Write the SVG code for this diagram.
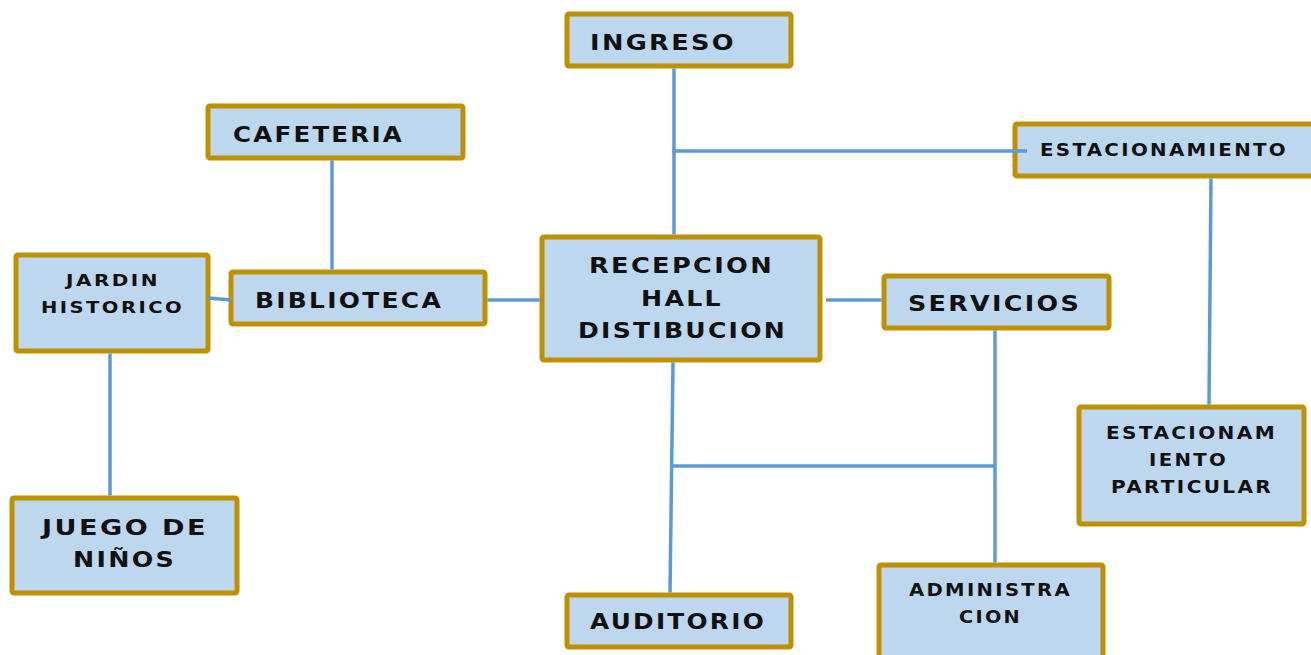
<svg xmlns="http://www.w3.org/2000/svg" width="1311" height="655" viewBox="0 0 1311 655">
<style>
.box{fill:#BDD7EE;stroke:#BF9000;stroke-width:5}
.t{font-family:"DejaVu Sans","Liberation Sans",sans-serif;font-weight:bold;fill:#111;letter-spacing:2px}
.l{font-size:22px}
.s{font-size:17px}
.x{font-size:16px}
.c{stroke:#5B9BD5;stroke-width:3.5;fill:none}
</style>
<rect width="1311" height="655" fill="#fff"/>
<g id="ingreso"><rect class="box" x="567" y="14" width="224" height="52" rx="2"/><text class="t l" x="590" y="50" textLength="146" lengthAdjust="spacingAndGlyphs">INGRESO</text></g>
<g id="cafeteria"><rect class="box" x="208" y="106" width="255" height="52" rx="2"/><text class="t l" x="233" y="142" textLength="171" lengthAdjust="spacingAndGlyphs">CAFETERIA</text></g>
<g id="estacionamiento"><rect class="box" x="1015" y="124" width="300" height="52" rx="2"/><text class="t s" x="1040" y="156" textLength="248" lengthAdjust="spacingAndGlyphs">ESTACIONAMIENTO</text></g>
<g id="jardin"><rect class="box" x="16" y="255" width="192" height="96" rx="2"/><text class="t x" x="66" y="286" textLength="94" lengthAdjust="spacingAndGlyphs">JARDIN</text><text class="t x" x="41" y="313" textLength="143" lengthAdjust="spacingAndGlyphs">HISTORICO</text></g>
<g id="biblioteca"><rect class="box" x="231" y="272" width="254" height="52" rx="2"/><text class="t l" x="255" y="308" textLength="188" lengthAdjust="spacingAndGlyphs">BIBLIOTECA</text></g>
<g id="recepcion"><rect class="box" x="542" y="237" width="278" height="123" rx="2"/><text class="t l" x="589" y="273" textLength="185" lengthAdjust="spacingAndGlyphs">RECEPCION</text><text class="t l" x="641" y="306" textLength="82" lengthAdjust="spacingAndGlyphs">HALL</text><text class="t l" x="578" y="338" textLength="209" lengthAdjust="spacingAndGlyphs">DISTIBUCION</text></g>
<g id="servicios"><rect class="box" x="884" y="276" width="225" height="52" rx="2"/><text class="t l" x="908" y="311" textLength="173" lengthAdjust="spacingAndGlyphs">SERVICIOS</text></g>
<g id="estacionamiento-particular"><rect class="box" x="1079" y="407" width="225" height="117" rx="2"/><text class="t s" x="1106" y="439" textLength="171" lengthAdjust="spacingAndGlyphs">ESTACIONAM</text><text class="t s" x="1149" y="466" textLength="79" lengthAdjust="spacingAndGlyphs">IENTO</text><text class="t s" x="1111" y="493" textLength="162" lengthAdjust="spacingAndGlyphs">PARTICULAR</text></g>
<g id="juego"><rect class="box" x="12" y="498" width="225" height="95" rx="2"/><text class="t l" x="42" y="535" textLength="166" lengthAdjust="spacingAndGlyphs">JUEGO DE</text><text class="t l" x="73" y="567" textLength="103" lengthAdjust="spacingAndGlyphs">NIÑOS</text></g>
<g id="auditorio"><rect class="box" x="567" y="595" width="224" height="52" rx="2"/><text class="t l" x="590" y="629" textLength="176" lengthAdjust="spacingAndGlyphs">AUDITORIO</text></g>
<g id="administracion"><rect class="box" x="879" y="565" width="224" height="100" rx="2"/><text class="t s" x="909" y="596" textLength="163" lengthAdjust="spacingAndGlyphs">ADMINISTRA</text><text class="t s" x="959" y="623" textLength="63" lengthAdjust="spacingAndGlyphs">CION</text></g>
<g id="connectors">
<line class="c" x1="674" y1="68.5" x2="674" y2="234.5"/>
<line class="c" x1="672" y1="151" x2="1027" y2="151"/>
<line class="c" x1="1211" y1="178.5" x2="1209" y2="404.5"/>
<line class="c" x1="332" y1="160.5" x2="332" y2="269.5"/>
<line class="c" x1="208" y1="298" x2="231" y2="300"/>
<line class="c" x1="487.5" y1="300" x2="539.5" y2="300"/>
<line class="c" x1="826" y1="300" x2="881.5" y2="300"/>
<line class="c" x1="110" y1="353.5" x2="110" y2="495.5"/>
<line class="c" x1="673" y1="362.5" x2="670" y2="592.5"/>
<line class="c" x1="673" y1="466" x2="996" y2="466"/>
<line class="c" x1="995" y1="330.5" x2="995" y2="562.5"/>
</g>
</svg>
